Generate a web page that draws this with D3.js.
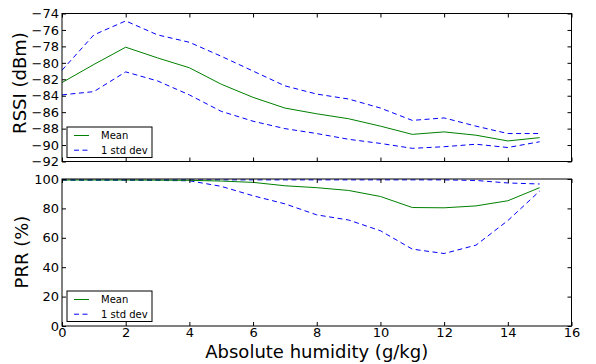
<!DOCTYPE html>
<html>
<head>
<meta charset="utf-8">
<script src="https://cdn.jsdelivr.net/npm/d3@7"></script>
<style>
  body { margin: 0; background: #fff; }
  svg { display: block; font-family: "DejaVu Sans", sans-serif; }
</style>
</head>
<body>
<svg id="chart" width="596" height="364"></svg>
<script>
// humidity steps (g/kg)
var humidity = [0, 1, 2, 3, 4, 5, 6, 7, 8, 9, 10, 11, 12, 13, 14, 15];

// RSSI (dBm)
var rssiMean  = [-82.4, -80.2, -78.1, -79.4, -80.6, -82.6, -84.2, -85.5, -86.2, -86.8, -87.7, -88.7, -88.4, -88.8, -89.5, -89.1];
var rssiUpper = [-80.9, -76.6, -74.9, -76.6, -77.5, -79.2, -81.0, -82.8, -83.8, -84.4, -85.5, -87.0, -86.7, -87.7, -88.6, -88.6];
var rssiLower = [-83.9, -83.5, -81.1, -82.2, -83.9, -85.9, -87.1, -88.0, -88.6, -89.3, -89.8, -90.4, -90.2, -89.9, -90.3, -89.6];

// PRR (%)
var prrMean  = [99.3, 99.3, 99.3, 99.2, 99.1, 98.6, 97.7, 95.4, 94.1, 92.2, 88.1, 80.6, 80.4, 81.7, 85.2, 94.1];
var prrUpper = [99.4, 99.4, 99.4, 99.4, 99.4, 99.4, 99.4, 99.4, 99.4, 99.4, 99.4, 99.4, 99.4, 99.0, 97.3, 96.6];
var prrLower = [99.2, 99.2, 99.2, 99.0, 98.8, 95.0, 88.6, 83.1, 75.6, 72.1, 64.8, 52.3, 49.3, 55.0, 71.7, 91.8];

var xTicks = [0, 2, 4, 6, 8, 10, 12, 14, 16];
var rssiTicks = [-74, -76, -78, -80, -82, -84, -86, -88, -90, -92];
var prrTicks = [0, 20, 40, 60, 80, 100];

var legendLabels = ["Mean", "1 std dev"];

var svg = d3.select('#chart');

var left = 62, right = 571.5;
var dash = '5,3.5';

var x = d3.scaleLinear().domain([0, 16]).range([left, right]);

var panels = [
    {top: 13.5, bottom: 161.5, domain: [-92, -74], ticks: rssiTicks,
     mean: rssiMean, upper: rssiUpper, lower: rssiLower,
     label: "RSSI (dBm)", labelX: 26, labelY: 83, xLabels: false, legendTop: 127},
    {top: 179, bottom: 326, domain: [0, 100], ticks: prrTicks,
     mean: prrMean, upper: prrUpper, lower: prrLower,
     label: "PRR (%)", labelX: 28, labelY: 252, xLabels: true, legendTop: 291}
];

panels.forEach(function(p) {
    var y = d3.scaleLinear().domain(p.domain).range([p.bottom, p.top]);
    var g = svg.append('g');

    var line = d3.line()
        .x(function(d, i) { return x(humidity[i]); })
        .y(function(d) { return y(d); });

    g.append('path').datum(p.upper)
        .attr('d', line).attr('fill', 'none')
        .attr('stroke', '#0000ff').attr('stroke-width', 1)
        .attr('stroke-dasharray', dash);
    g.append('path').datum(p.lower)
        .attr('d', line).attr('fill', 'none')
        .attr('stroke', '#0000ff').attr('stroke-width', 1)
        .attr('stroke-dasharray', dash);
    g.append('path').datum(p.mean)
        .attr('d', line).attr('fill', 'none')
        .attr('stroke', '#008000').attr('stroke-width', 1);

    // inward ticks on all four sides
    var yLeft = d3.axisLeft(y).tickValues(p.ticks).tickSize(-4).tickPadding(3);
    var yRight = d3.axisRight(y).tickValues(p.ticks).tickSize(-4).tickFormat('');
    var xBottom = d3.axisBottom(x).tickValues(xTicks).tickSize(-4).tickPadding(2);
    var xTop = d3.axisTop(x).tickValues(xTicks).tickSize(-4).tickFormat('');
    if (!p.xLabels) xBottom.tickFormat('');

    [[yLeft, 'translate(' + left + ',0)'],
     [yRight, 'translate(' + right + ',0)'],
     [xBottom, 'translate(0,' + p.bottom + ')'],
     [xTop, 'translate(0,' + p.top + ')']].forEach(function(a) {
        var ax = g.append('g').attr('transform', a[1]).call(a[0]);
        ax.select('.domain').remove();
        ax.selectAll('line').attr('stroke', '#000');
        ax.selectAll('text').attr('font-size', 13)
            .attr('font-family', '"DejaVu Sans", sans-serif').attr('fill', '#000');
    });

    g.append('rect')
        .attr('x', left).attr('y', p.top)
        .attr('width', right - left).attr('height', p.bottom - p.top)
        .attr('fill', 'none').attr('stroke', '#000').attr('stroke-width', 1);

    g.append('text')
        .attr('transform', 'translate(' + p.labelX + ',' + p.labelY + ') rotate(-90)')
        .attr('text-anchor', 'middle').attr('font-size', 18)
        .text(p.label);

    // legend
    var lg = g.append('g').attr('transform', 'translate(67,' + p.legendTop + ')');
    lg.append('rect').attr('width', 85).attr('height', 30.5)
        .attr('fill', '#fff').attr('stroke', '#000').attr('stroke-width', 1);
    legendLabels.forEach(function(name, i) {
        var yy = 8.5 + i * 14.7;
        lg.append('line').attr('x1', 7).attr('x2', 22).attr('y1', yy).attr('y2', yy)
            .attr('stroke', i === 0 ? '#008000' : '#0000ff').attr('stroke-width', 1)
            .attr('stroke-dasharray', i === 0 ? null : dash);
        lg.append('text').attr('x', 34).attr('y', yy + 3.6)
            .attr('font-size', 10).text(name);
    });
});

svg.append('text')
    .attr('x', (left + right) / 2).attr('y', 358)
    .attr('text-anchor', 'middle').attr('font-size', 18)
    .text('Absolute humidity (g/kg)');
</script>
</body>
</html>
